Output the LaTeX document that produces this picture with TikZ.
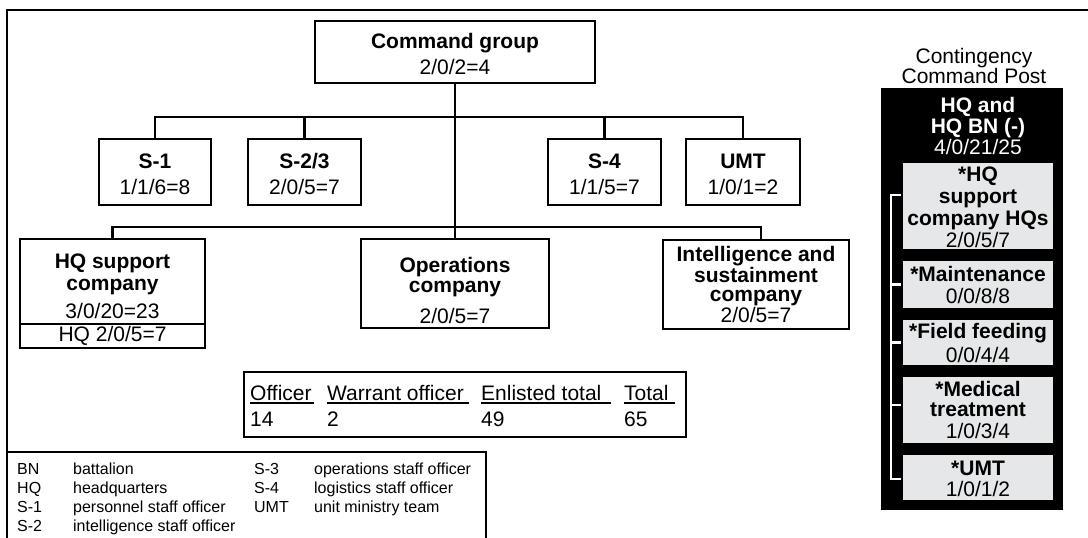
\documentclass[tikz,border=0pt]{standalone}
\usepackage{fontspec}
\setmainfont{Liberation Sans}
\newcommand\txtL{\fontsize{21}{22}\selectfont\lineskiplimit=-30pt\relax}
\newcommand\txtS{\fontsize{16}{19}\selectfont}
% invisible strut that lowers the text block inside a box
\newcommand\vlift[1]{\rule{0pt}{#1pt}}
\definecolor{panelgray}{RGB}{230,231,232}
\begin{document}
\begin{tikzpicture}[x=1pt,y=-1pt,
  unit/.style={draw, line width=2.9pt, align=center, inner sep=0pt, font=\txtL},
  wire/.style={line width=2.8pt},
  frameline/.style={line width=2.9pt},
  cell/.style={fill=panelgray, align=center, inner sep=0pt, minimum width=150pt, font=\txtL},
  lbl/.style={inner sep=0pt, font=\txtL},
  rulestroke/.style={line width=1.7pt},
  bracket/.style={draw=white, line width=2.2pt},
]
\useasboundingbox (0,0) rectangle (1088,538);

% outer frame and legend frame
\draw[frameline] (1092,10) -- (7,10) -- (7,542);
\draw[frameline] (7,452) -- (486,452) -- (486,542);

% command group and staff sections
\node[unit, minimum width=280pt, minimum height=62pt] (cg) at (455,52)
  {\vlift{20}\textbf{Command group}\\[4pt]2/0/2=4};
\node[unit, minimum width=112pt, minimum height=66pt] (s1) at (155,172)
  {\vlift{20}\textbf{S-1}\\[4pt]1/1/6=8};
\node[unit, minimum width=113pt, minimum height=66pt] (s23) at (304.5,172)
  {\vlift{20}\textbf{S-2/3}\\[4pt]2/0/5=7};
\node[unit, minimum width=113pt, minimum height=66pt] (s4) at (604.5,172)
  {\vlift{20}\textbf{S-4}\\[4pt]1/1/5=7};
\node[unit, minimum width=114pt, minimum height=66pt] (umt) at (743,172)
  {\vlift{20}\textbf{UMT}\\[4pt]1/0/1=2};

% companies
\node[unit, minimum width=185pt, minimum height=85pt] (hqs) at (112.5,281.5)
  {\vlift{25}\textbf{HQ support}\\\textbf{company}\\[6pt]3/0/20=23};
\node[unit, minimum width=185pt, minimum height=24pt] (hqsb) at (112.5,336)
  {HQ 2/0/5=7};
\node[unit, minimum width=188pt, minimum height=89pt] (ops) at (455,283.5)
  {\vlift{30}\textbf{Operations}\\[-2pt]\textbf{company}\\[9pt]2/0/5=7};
\node[unit, minimum width=186pt, minimum height=89pt] (intel) at (756,284.5)
  {\vlift{16}\textbf{Intelligence and}\\[-1pt]\textbf{sustainment}\\[-3pt]\textbf{company}\\[-1pt]2/0/5=7};

% connectors
\coordinate (bar1) at (455,117);
\coordinate (bar2) at (455,227);
\draw[wire] (cg.south) -- (ops.north);
\draw[wire] (s1.north) |- (bar1) -| (umt.north);
\draw[wire] (s23.north) -- (s23.north |- bar1);
\draw[wire] (s4.north) -- (s4.north |- bar1);
\draw[wire] (hqs.north) |- (bar2) -| ([xshift=5pt]intel.north);

% strength totals
\node[draw, line width=2.9pt, inner sep=0pt, minimum width=442pt, minimum height=65pt] (tot) at (465,404.5) {};
\node[lbl, anchor=base west] (h1) at (250,400) {Officer};
\node[lbl, anchor=base west] (h2) at (327,400) {Warrant officer};
\node[lbl, anchor=base west] (h3) at (481,400) {Enlisted total};
\node[lbl, anchor=base west] (h4) at (624,400) {Total};
\draw[rulestroke] (250,403) -- (314,403);
\draw[rulestroke] (327,403) -- (469,403);
\draw[rulestroke] (481,403) -- (611,403);
\draw[rulestroke] (624,403) -- (675,403);
\node[lbl, anchor=base west] (v1) at (250,426) {14};
\node[lbl, anchor=base west] (v2) at (327,426) {2};
\node[lbl, anchor=base west] (v3) at (481,426) {49};
\node[lbl, anchor=base west] (v4) at (624,426) {65};

% abbreviations
\node[anchor=north west, inner sep=0pt, font=\txtS] (legend) at (17,460.7)
  {\begin{tabular}{@{}p{56pt}@{}p{181pt}@{}p{60pt}@{}l@{}}
   BN & battalion & S-3 & operations staff officer\\
   HQ & headquarters & S-4 & logistics staff officer\\
   S-1 & personnel staff officer & UMT & unit ministry team\\
   S-2 & intelligence staff officer & & \\
   \end{tabular}};

% contingency command post
\node[lbl, align=center, anchor=north] (ccptitle) at (974,47.7)
  {Contingency\\[-2pt]Command Post};
\node[fill=black, inner sep=0pt, minimum width=182pt, minimum height=422pt] (ccp) at (972,299) {};
\node[lbl, align=center, anchor=north, text=white] (hqhq) at (978,96.7)
  {\textbf{HQ and}\\[-1pt]\textbf{HQ BN (-)}\\[-1pt]4/0/21/25};
\node[cell, minimum height=86pt] (g1) at (978,206)
  {\vlift{18}\textbf{*HQ}\\\textbf{support}\\\textbf{company HQs}\\2/0/5/7};
\node[cell, minimum height=47pt] (g2) at (978,284.5)
  {\vlift{17}\textbf{*Maintenance}\\0/0/8/8};
\node[cell, minimum height=45pt] (g3) at (978,342.5)
  {\textbf{*Field feeding}\\[2pt]0/0/4/4};
\node[cell, minimum height=66pt] (g4) at (978,410)
  {\textbf{*Medical}\\[-2pt]\textbf{treatment}\\1/0/3/4};
\node[cell, minimum height=45pt] (g5) at (978,477.5)
  {\vlift{18}\textbf{*UMT}\\[-1pt]1/0/1/2};

% white bracket tying the cells together
\draw[bracket] ([shift={(-2,-11)}]g1.west) -- ++(-10,0) |- ([shift={(-2,1.5)}]g5.west);
\draw[bracket] ([xshift=-2pt]g2.west) -- ++(-10,0);
\draw[bracket] ([xshift=-2pt]g3.west) -- ++(-10,0);
\draw[bracket] ([shift={(-2,-5)}]g4.west) -- ++(-10,0);
\end{tikzpicture}
\end{document}
